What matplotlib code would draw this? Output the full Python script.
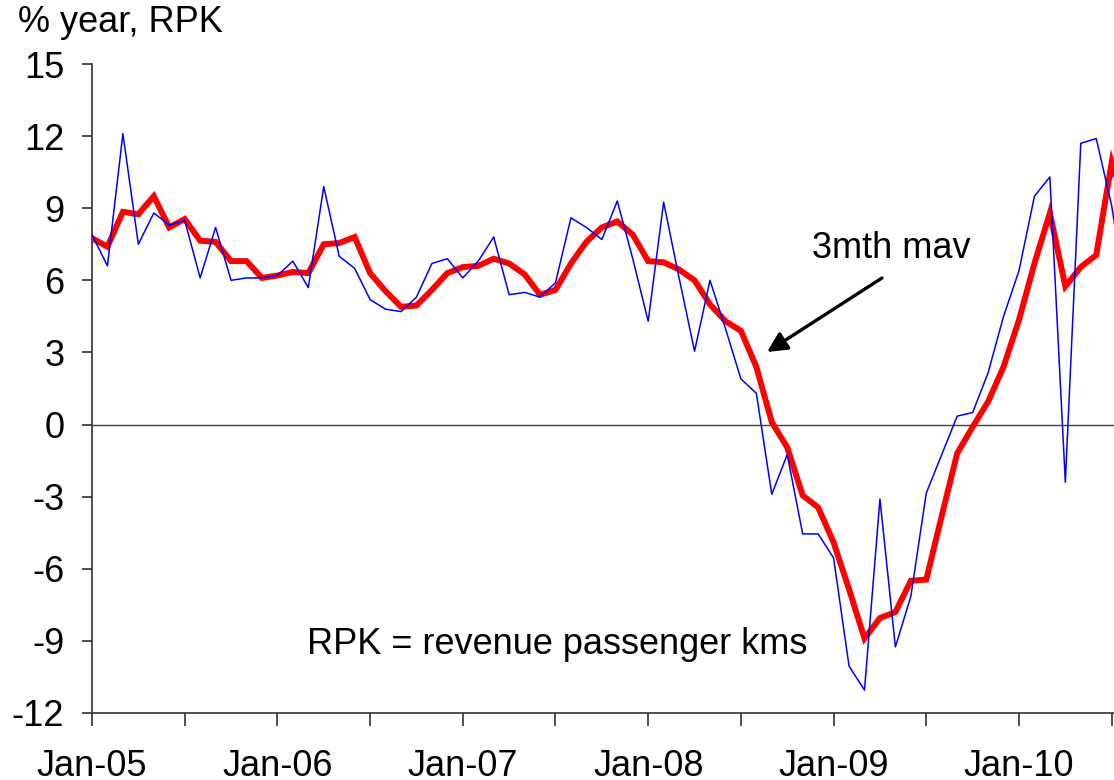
import matplotlib
matplotlib.use("Agg")
import matplotlib.pyplot as plt
from matplotlib.patches import FancyArrowPatch

plt.rcParams['font.family'] = ['Liberation Sans', 'DejaVu Sans']
plt.rcParams['axes.unicode_minus'] = False

# monthly y/y % change in RPK, Jan-05 onwards
rpk_monthly = [7.9, 6.6, 12.1, 7.5, 8.8, 8.3, 8.5, 6.1, 8.2, 6.0, 6.1, 6.1,
               6.2, 6.8, 5.7, 9.9, 7.0, 6.5, 5.2, 4.8, 4.7, 5.3, 6.7, 6.9,
               6.1, 6.8, 7.8, 5.4, 5.5, 5.3, 5.9, 8.6, 8.2, 7.7, 9.3, 6.9,
               4.3, 9.25, 6.1, 3.05, 6.0, 4.0, 1.9, 1.3, -2.9, -1.25, -4.55, -4.55,
               -5.55, -10.05, -11.05, -3.1, -9.25, -7.15, -2.85, -1.25, 0.35, 0.5, 2.15, 4.5,
               6.4, 9.5, 10.3, -2.4, 11.7, 11.9, 9.1, 5.0]
# 3 month moving average
rpk_mav = [7.75, 7.4, 8.85, 8.75, 9.5, 8.2, 8.55, 7.65, 7.6, 6.8, 6.8, 6.1,
           6.2, 6.35, 6.3, 7.5, 7.55, 7.8, 6.3, 5.55, 4.9, 4.95, 5.6, 6.3,
           6.55, 6.6, 6.9, 6.7, 6.25, 5.4, 5.6, 6.7, 7.6, 8.2, 8.45, 7.9,
           6.8, 6.75, 6.45, 6.0, 5.0, 4.3, 3.9, 2.4, 0.1, -0.95, -2.95, -3.45,
           -4.9, -6.85, -8.9, -8.05, -7.8, -6.5, -6.45, -3.8, -1.2, -0.1, 0.95, 2.4,
           4.35, 6.7, 8.8, 5.75, 6.55, 7.05, 10.9, 8.7]
x_labels = ["Jan-05", "Jan-06", "Jan-07", "Jan-08", "Jan-09", "Jan-10"]
y_ticks = [15, 12, 9, 6, 3, 0, -3, -6, -9, -12]

months = list(range(len(rpk_monthly)))

W, H = 1114, 780
fig = plt.figure(figsize=(W / 100, H / 100), dpi=100)
ax = fig.add_axes([92 / W, 1 - 713 / H, 1 - 92 / W, (713 - 64) / H])

ax.plot(months, rpk_mav, color='#FF0000', lw=4.3, solid_joinstyle='miter', zorder=3)
ax.plot(months, rpk_monthly, color='#0000FF', lw=1.1, zorder=4)
ax.axhline(0, color='#404040', lw=1.0, zorder=2)

ax.set_xlim(0, 66.15)
ax.set_ylim(-12, 15)

ax.set_yticks(y_ticks)
ax.set_yticklabels([str(v) for v in y_ticks])
ax.set_xticks(range(0, 67, 6))
ax.set_xticklabels([x_labels[i // 2] if i % 2 == 0 else "" for i in range(12)])

for s in ['top', 'right']:
    ax.spines[s].set_visible(False)
for s in ['left', 'bottom']:
    ax.spines[s].set_color('#303030')
    ax.spines[s].set_linewidth(1.2)

ax.tick_params(axis='y', direction='out', length=7, width=1.2, color='#303030',
               labelsize=26, pad=13)
ax.tick_params(axis='x', direction='out', length=9, width=1.2, color='#303030',
               labelsize=26, pad=17)

fig.text(18 / W, 1 - 22 / H, "% year, RPK", fontsize=26, ha='left', va='center')
fig.text(812 / W, 1 - 248 / H, "3mth mav", fontsize=26, ha='left', va='center')
fig.text(307 / W, 1 - 645 / H, "RPK = revenue passenger kms", fontsize=26,
         ha='left', va='center')

arrow = FancyArrowPatch(posA=(882 / W, 1 - 278 / H), posB=(767 / W, 1 - 352 / H),
                        transform=fig.transFigure, arrowstyle='-|>',
                        mutation_scale=30, color='black', lw=2.4,
                        shrinkA=0, shrinkB=0)
fig.add_artist(arrow)

fig.savefig("out.png", dpi=100)
